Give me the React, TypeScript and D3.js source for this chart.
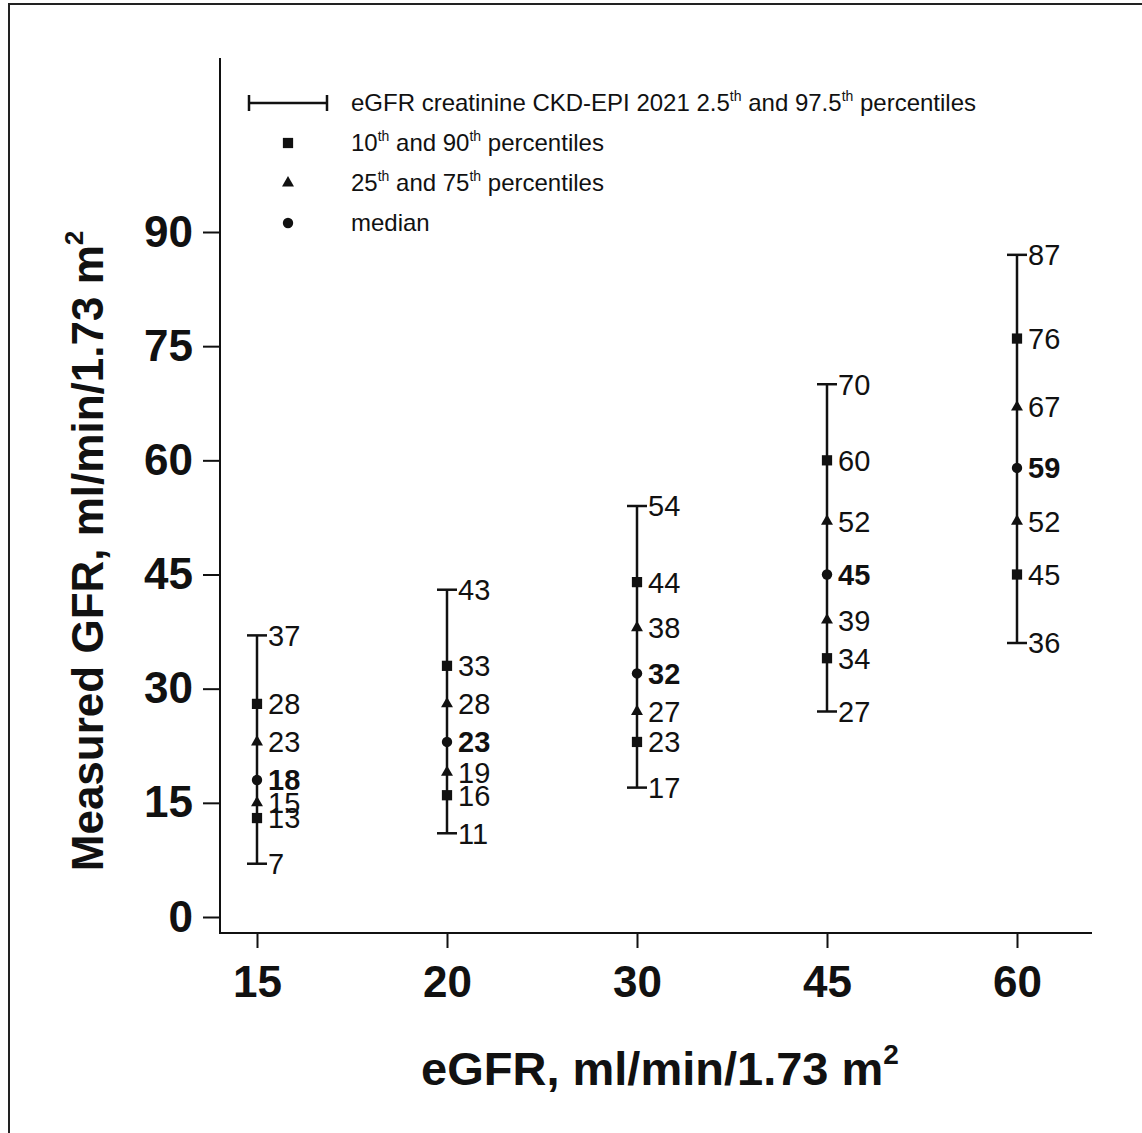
import React, { Component } from "react";
import * as d3 from "d3";

// eGFR categories (x axis) and the percentiles of measured GFR in each
const categories = ["15", "20", "30", "45", "60"];
const p2_5 = [7, 11, 17, 27, 36];
const p10 = [13, 16, 23, 34, 45];
const p25 = [15, 19, 27, 39, 52];
const median = [18, 23, 32, 45, 59];
const p75 = [23, 28, 38, 52, 67];
const p90 = [28, 33, 44, 60, 76];
const p97_5 = [37, 43, 54, 70, 87];
const yTicks = [0, 15, 30, 45, 60, 75, 90];

const FONT = "'Liberation Sans', Arial, Helvetica, sans-serif";

class App extends Component {
  myRef: any;
  constructor(props: any) {
    super(props);
    this.myRef = React.createRef();
  }

  componentDidMount() {
    this.drawChart();
  }

  drawChart() {
    const width = 1142;
    const height = 1133;
    const root = d3.select(this.myRef.current);
    root.selectAll("*").remove();

    const svg = root
      .append("svg")
      .attr("width", width)
      .attr("height", height)
      .style("position", "absolute")
      .style("left", "0px")
      .style("top", "0px")
      .style("font-family", FONT);

    svg.append("rect").attr("width", width).attr("height", height).attr("fill", "#fff");

    // frame around the figure (right and bottom edges fall outside the picture)
    svg
      .append("rect")
      .attr("x", 9)
      .attr("y", 4)
      .attr("width", width + 20)
      .attr("height", height + 20)
      .attr("fill", "none")
      .attr("stroke", "#222")
      .attr("stroke-width", 2);

    const xScale = d3.scalePoint().domain(categories).range([257, 1017]);
    const yScale = d3.scaleLinear().domain([0, 90]).range([917, 232]);

    const axisX = 220;
    const axisY = 933;

    // y axis
    const yAxis = svg
      .append("g")
      .attr("transform", `translate(${axisX},0)`)
      .call(d3.axisLeft(yScale).tickValues(yTicks).tickSize(17).tickSizeOuter(0).tickPadding(10));
    yAxis.select(".domain").remove();
    yAxis.selectAll(".tick line").attr("stroke", "#111").attr("stroke-width", 2);
    yAxis
      .selectAll(".tick text")
      .attr("fill", "#111")
      .style("font-size", "44px")
      .style("font-weight", "bold")
      .style("font-family", FONT);

    // x axis
    const xAxis = svg
      .append("g")
      .attr("transform", `translate(0,${axisY})`)
      .call(d3.axisBottom(xScale).tickSize(15).tickSizeOuter(0).tickPadding(18));
    xAxis.select(".domain").remove();
    xAxis.selectAll(".tick line").attr("stroke", "#111").attr("stroke-width", 2);
    xAxis
      .selectAll(".tick text")
      .attr("fill", "#111")
      .style("font-size", "44px")
      .style("font-weight", "bold")
      .style("font-family", FONT);

    svg
      .append("path")
      .attr("d", `M${axisX},58V${axisY}H1092`)
      .attr("fill", "none")
      .attr("stroke", "#111")
      .attr("stroke-width", 2);

    // axis titles
    const yTitle = svg
      .append("text")
      .attr("transform", "translate(103,551) rotate(-90)")
      .attr("text-anchor", "middle")
      .attr("fill", "#111")
      .style("font-size", "44px")
      .style("font-weight", "bold");
    yTitle.append("tspan").text("Measured GFR, ml/min/1.73 m");
    yTitle.append("tspan").attr("dy", -20).style("font-size", "26px").text("2");

    const xTitle = svg
      .append("text")
      .attr("x", 660)
      .attr("y", 1085)
      .attr("text-anchor", "middle")
      .attr("fill", "#111")
      .style("font-size", "47px")
      .style("font-weight", "bold");
    xTitle.append("tspan").text("eGFR, ml/min/1.73 m");
    xTitle.append("tspan").attr("dy", -21).style("font-size", "28px").text("2");

    // error bars: 2.5th to 97.5th
    const capW = 10;
    const bars = svg.append("g").attr("stroke", "#111").attr("stroke-width", 2.5);
    categories.forEach((c, i) => {
      const x = xScale(c) as number;
      bars.append("line").attr("x1", x).attr("x2", x).attr("y1", yScale(p2_5[i])).attr("y2", yScale(p97_5[i]));
      [p2_5[i], p97_5[i]].forEach((v) => {
        bars.append("line").attr("x1", x - capW).attr("x2", x + capW).attr("y1", yScale(v)).attr("y2", yScale(v));
      });
    });

    const square = d3.symbol().type(d3.symbolSquare).size(105);
    const triangle = d3.symbol().type(d3.symbolTriangle).size(62);
    const circle = d3.symbol().type(d3.symbolCircle).size(85);

    const markerSets = [
      { values: p10, sym: square },
      { values: p90, sym: square },
      { values: p25, sym: triangle },
      { values: p75, sym: triangle },
      { values: median, sym: circle },
    ];
    markerSets.forEach((m) => {
      svg
        .append("g")
        .selectAll("path")
        .data(m.values)
        .enter()
        .append("path")
        .attr("d", m.sym as any)
        .attr("transform", (d, i) => `translate(${xScale(categories[i])},${yScale(d)})`)
        .attr("fill", "#111");
    });

    // value labels (overlap at eGFR 15 as in the original figure)
    const labelSets = [
      { values: p2_5, bold: false },
      { values: p10, bold: false },
      { values: p25, bold: false },
      { values: p75, bold: false },
      { values: p90, bold: false },
      { values: p97_5, bold: false },
      { values: median, bold: true },
    ];
    labelSets.forEach((l) => {
      svg
        .append("g")
        .selectAll("text")
        .data(l.values)
        .enter()
        .append("text")
        .attr("x", (d, i) => (xScale(categories[i]) as number) + 11)
        .attr("y", (d) => yScale(d))
        .attr("dy", "0.36em")
        .attr("fill", "#111")
        .style("font-size", "29px")
        .style("font-weight", l.bold ? "bold" : "normal")
        .text((d) => d);
    });

    // legend
    const legend = svg.append("g").attr("fill", "#111");
    const ly = [103, 143, 183, 223];
    legend
      .append("path")
      .attr("d", `M249,${ly[0] - 8}V${ly[0] + 8}M249,${ly[0]}H327M327,${ly[0] - 8}V${ly[0] + 8}`)
      .attr("stroke", "#111")
      .attr("stroke-width", 2.5)
      .attr("fill", "none");
    legend.append("path").attr("d", square as any).attr("transform", `translate(288,${ly[1]})`);
    legend.append("path").attr("d", triangle as any).attr("transform", `translate(288,${ly[2]})`);
    legend.append("path").attr("d", circle as any).attr("transform", `translate(288,${ly[3]})`);

    const legendRows: string[][] = [
      ["eGFR creatinine CKD-EPI 2021 2.5", "th", " and 97.5", "th", " percentiles"],
      ["10", "th", " and 90", "th", " percentiles"],
      ["25", "th", " and 75", "th", " percentiles"],
      ["median"],
    ];
    legendRows.forEach((parts, r) => {
      const t = legend
        .append("text")
        .attr("x", 351)
        .attr("y", ly[r] + 8)
        .style("font-size", "24px")
        .attr("xml:space", "preserve")
        .style("white-space", "pre");
      parts.forEach((p, k) => {
        const sup = k % 2 === 1;
        t.append("tspan")
          .attr("dy", sup ? -10 : k > 0 ? 10 : 0)
          .style("font-size", sup ? "14px" : "24px")
          .text(p);
      });
    });
  }

  render() {
    return <div className={"vis-container"} ref={this.myRef}></div>;
  }
}

export default App;
